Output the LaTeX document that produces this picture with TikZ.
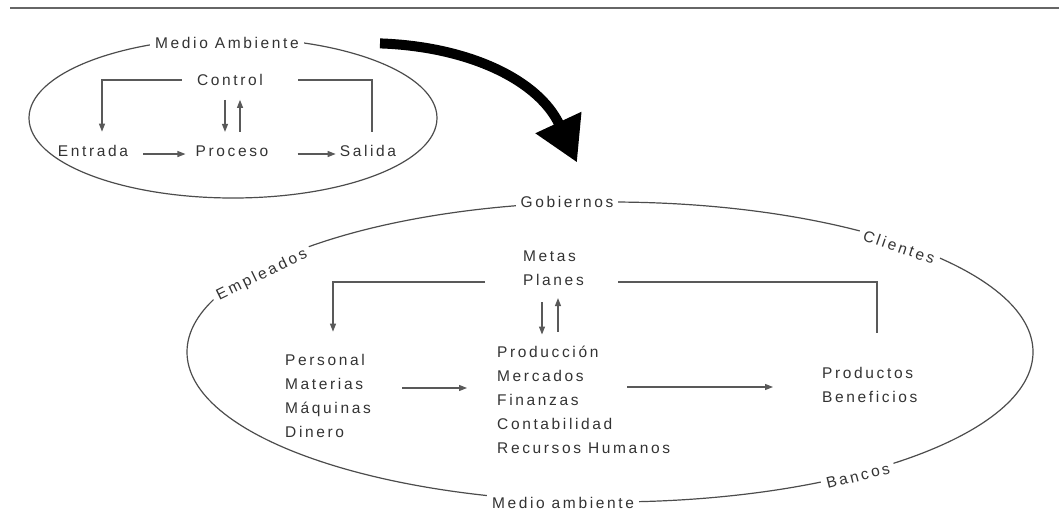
\documentclass[tikz,border=0pt]{standalone}
\usepackage{fontspec}
\newfontfamily\diagfont{Liberation Sans}[LetterSpace=17]
\usetikzlibrary{shapes.geometric, arrows.meta}

\begin{document}
\begin{tikzpicture}[x=1pt, y=1pt]
\tikzstyle{txt}=[inner sep=0pt, text=black!80, font=\diagfont\fontsize{15.5}{24}\selectfont, align=left]
\tikzstyle{ring}=[ellipse, draw=black!70, line width=1.2pt, inner sep=0pt]
\tikzstyle{lbl}=[txt, fill=white, inner sep=5pt]
\tikzstyle{connect}=[-{Triangle[length=8pt, width=6pt]}, draw=black!65, line width=1.1pt]
\tikzstyle{plain}=[draw=black!65, line width=1.1pt]
\tikzstyle{bigarrow}=[-{Triangle[length=44pt, width=48pt]}, line width=10pt, black]

\useasboundingbox (0,0) rectangle (1059,-517);
\draw[black!60, line width=1.5pt] (10,-8) -- (1059,-8);

% small system
\node[ring, minimum width=408pt, minimum height=160pt] (env) at (233,-118) {};
\node[lbl] (amb) at (227,-43) {Medio Ambiente};
\node[txt] (control) at (230,-80) {Control};
\node[txt] (entrada) at (93,-151) {Entrada};
\node[txt] (proceso) at (232,-151) {Proceso};
\node[txt] (salida) at (368,-151) {Salida};

\draw[connect] ([xshift=15pt, yshift=-3pt]entrada.east) -- ([xshift=-10pt, yshift=-3pt]proceso.west);
\draw[connect] ([xshift=29pt, yshift=-3pt]proceso.east) -- ([xshift=-4pt, yshift=-3pt]salida.west);
\draw[connect] ([xshift=-15pt]control.west) -| ([xshift=9pt, yshift=13.5pt]entrada.north);
\draw[plain] ([xshift=4pt, yshift=13.5pt]salida.north) |- ([xshift=35pt]control.east);
\draw[connect] ([xshift=-5pt, yshift=-14pt]control.south) -- ([xshift=-7pt, yshift=13.5pt]proceso.north);
\draw[connect] ([xshift=8pt, yshift=13.5pt]proceso.north) -- ([xshift=10pt, yshift=-14pt]control.south);

% organization
\node[ring, minimum width=846pt, minimum height=300pt] (world) at (610,-352) {};
\node[lbl] (gob) at (567,-202) {Gobiernos};
\node[lbl, rotate=-19] (cli) at (899,-247) {Clientes};
\node[lbl, rotate=14] (ban) at (858,-476) {Bancos};
\node[lbl] (mamb) at (563,-503) {Medio ambiente};
\node[lbl, rotate=26] (emp) at (262,-275) {Empleados};

\node[txt, anchor=west] (metas) at (523,-268) {Metas\\Planes};
\node[txt, anchor=west] (recursos) at (285,-396) {Personal\\Materias\\Máquinas\\Dinero};
\node[txt, anchor=west] (areas) at (497,-400) {Producción\\Mercados\\Finanzas\\Contabilidad\\Recursos Humanos};
\node[txt, anchor=west] (productos) at (822,-385) {Productos\\Beneficios};

\draw[connect] ([xshift=-38pt, yshift=-14pt]metas.west) -| ([xshift=48pt, yshift=22.5pt]recursos.north west);
\draw[plain] ([xshift=55pt, yshift=34.5pt]productos.north west) |- ([xshift=95pt, yshift=-14pt]metas.west);
\draw[connect] ([xshift=19pt, yshift=-16.5pt]metas.south west) -- ([xshift=45pt, yshift=11.5pt]areas.north west);
\draw[connect] ([xshift=61pt, yshift=14.5pt]areas.north west) -- ([xshift=35pt, yshift=-12.5pt]metas.south west);
\draw[connect] ([xshift=117pt, yshift=8pt]recursos.west) -- ([xshift=-30pt, yshift=12pt]areas.west);
\draw[connect] ([xshift=130pt, yshift=13pt]areas.west) -- ([xshift=-49pt, yshift=-2pt]productos.west);

% from the general model to the firm
\draw[bigarrow] ([xshift=147pt, yshift=-6pt]env.north) to[out=-2, in=115] ([xshift=-33pt, yshift=39pt]world.north);
\end{tikzpicture}
\end{document}
